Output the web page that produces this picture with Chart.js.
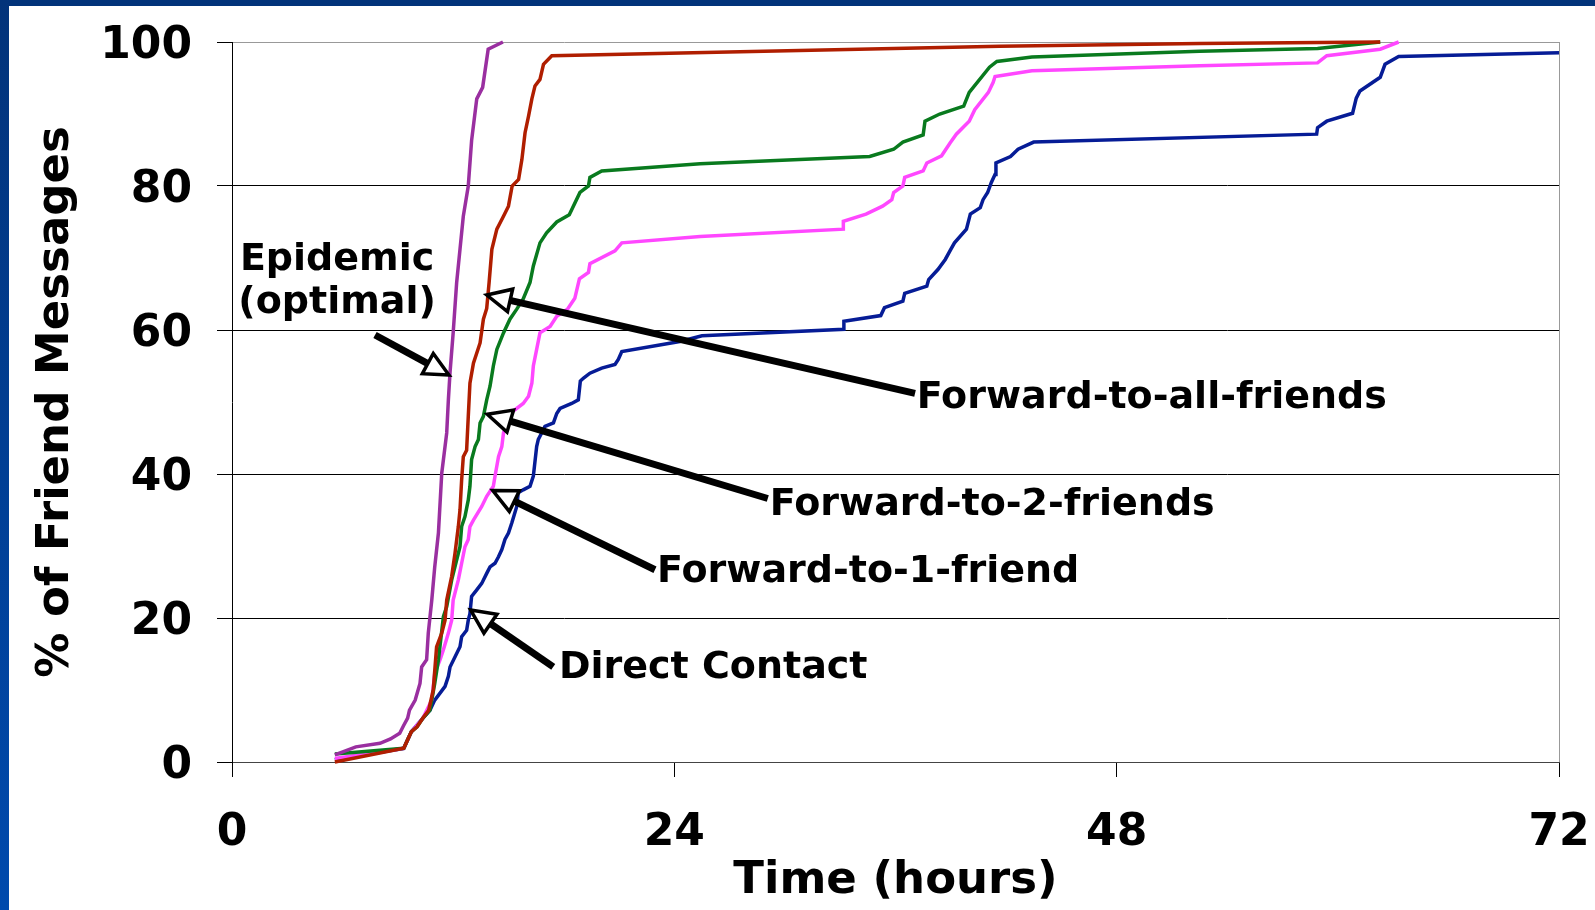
<!DOCTYPE html>
<html><head><meta charset="utf-8">
<script src="https://cdn.jsdelivr.net/npm/chart.js@4.4.1/dist/chart.umd.min.js"></script>
<style>
html,body{margin:0;padding:0;background:#fff;overflow:hidden}
#wrap{position:relative;width:1595px;height:910px}
#topbar{position:absolute;left:0;top:0;width:1595px;height:6px;background:#02337a;z-index:2}
#leftbar{position:absolute;left:0;top:0;width:9px;height:910px;background:linear-gradient(#02337a,#004aad);z-index:2}
canvas{position:absolute;left:0;top:0}
</style></head>
<body><div id="wrap"><div id="topbar"></div><div id="leftbar"></div><canvas id="c" width="1595" height="910"></canvas></div>
<script>
// ---- data (hours, % of friend messages) ----
const seriesNames = ["Epidemic (optimal)", "Forward-to-all-friends", "Forward-to-2-friends", "Forward-to-1-friend", "Direct Contact"];
const xTicks = [0, 24, 48, 72];
const yTicks = [0, 20, 40, 60, 80, 100];

const epidemicX = [5.58, 6.72, 8.03, 8.6, 9.1, 9.32, 9.53, 9.63, 9.94, 10.2, 10.29, 10.56, 10.65, 10.84, 11.0, 11.2, 11.38, 11.65, 11.74, 11.83, 12.0, 12.19, 12.37, 12.55, 12.82, 13.0, 13.28, 13.6, 13.9, 14.7];
const epidemicY = [1.0, 2.1, 2.6, 3.2, 4.0, 5.1, 6.1, 7.2, 8.6, 10.9, 13.2, 14.2, 17.9, 22.5, 27.1, 31.8, 40.1, 45.7, 50.3, 54.1, 59.6, 66.6, 71.2, 75.8, 80.0, 86.3, 92.1, 93.7, 99.0, 100];

const allX = [5.58, 9.32, 9.53, 9.73, 10.04, 10.36, 10.67, 10.92, 11.1, 11.38, 11.56, 11.65, 11.92, 12.1, 12.28, 12.37, 12.46, 12.55, 12.73, 12.82, 12.91, 13.1, 13.46, 13.64, 13.82, 13.95, 14.1, 14.37, 14.73, 15.0, 15.2, 15.55, 15.73, 15.9, 16.09, 16.27, 16.44, 16.71, 16.9, 17.35, 41.67, 52.5, 62.3];
const allY = [0, 1.9, 3.1, 4.2, 4.9, 6.1, 7.2, 10.0, 16.0, 17.9, 19.7, 22.5, 25.8, 29.0, 32.7, 35.0, 39.2, 42.4, 43.3, 48.0, 52.6, 55.4, 58.2, 61.5, 63.0, 66.6, 71.2, 74.0, 75.8, 77.2, 80.0, 80.9, 83.7, 87.4, 89.7, 92.1, 93.9, 94.8, 96.9, 98.1, 99.4, 99.8, 100];

const twoX = [5.58, 9.32, 9.53, 9.73, 10.04, 10.36, 10.74, 11.0, 11.2, 11.47, 11.65, 11.92, 12.37, 12.46, 12.64, 12.82, 12.91, 13.0, 13.19, 13.37, 13.46, 13.64, 13.82, 14.0, 14.18, 14.37, 14.73, 15.08, 15.45, 15.8, 16.17, 16.35, 16.71, 17.07, 17.62, 18.3, 18.88, 19.34, 19.42, 20.06, 25.4, 34.6, 35.9, 36.4, 37.5, 37.6, 38.4, 39.7, 40.0, 41.1, 41.5, 43.4, 52.5, 58.9, 62.3];
const twoY = [1.1, 1.9, 3.1, 4.2, 4.9, 6.1, 7.2, 10.9, 14.2, 20.2, 21.6, 25.3, 29.9, 32.7, 34.1, 36.4, 38.3, 42.0, 43.8, 44.8, 47.1, 48.0, 50.3, 52.2, 55.0, 57.3, 59.6, 61.5, 62.9, 64.3, 66.6, 68.9, 72.1, 73.5, 75.0, 76.0, 79.1, 80.0, 81.2, 82.1, 83.1, 84.1, 85.1, 86.1, 87.1, 89.0, 90.0, 91.1, 93.0, 96.5, 97.3, 97.9, 98.7, 99.1, 100];

const oneX = [5.58, 9.32, 9.73, 10.36, 10.84, 11.0, 11.29, 11.47, 11.74, 11.92, 12.0, 12.28, 12.46, 12.64, 12.82, 12.91, 13.1, 13.55, 13.82, 14.18, 14.27, 14.46, 14.64, 14.73, 15.08, 15.8, 16.09, 16.27, 16.35, 16.53, 16.71, 17.26, 17.62, 18.2, 18.6, 18.85, 19.34, 19.42, 20.78, 21.15, 25.4, 33.17, 33.17, 34.4, 35.3, 35.8, 35.9, 36.4, 36.5, 37.5, 37.7, 38.5, 38.97, 39.3, 40.0, 40.3, 41.04, 41.3, 41.4, 41.67, 43.4, 52.5, 58.9, 59.4, 62.3, 63.3];
const oneY = [0.5, 1.9, 4.2, 6.1, 8.6, 12.3, 14.2, 15.6, 17.9, 19.7, 22.5, 25.3, 27.6, 29.9, 30.9, 32.7, 33.6, 35.5, 36.9, 38.3, 39.7, 42.4, 43.8, 45.7, 48.4, 49.8, 50.8, 52.6, 55.0, 57.3, 59.6, 60.5, 61.9, 62.9, 64.4, 67.1, 68.0, 69.2, 71.0, 72.1, 73.0, 74.0, 75.1, 76.1, 77.2, 78.1, 79.1, 80.0, 81.2, 82.1, 83.2, 84.2, 86.0, 87.2, 89.0, 90.6, 93.0, 94.4, 95.2, 95.3, 96.0, 96.7, 97.1, 98.1, 99.0, 100];

const directX = [5.58, 9.32, 9.73, 10.36, 10.74, 11.0, 11.56, 11.74, 11.83, 12.37, 12.46, 12.73, 12.82, 12.91, 13.0, 13.28, 13.55, 13.82, 14.0, 14.27, 14.46, 14.64, 14.81, 15.0, 15.18, 15.45, 15.53, 15.8, 16.17, 16.35, 16.53, 16.62, 16.8, 16.98, 17.44, 17.62, 17.8, 18.43, 18.79, 18.9, 19.06, 19.42, 20.06, 20.78, 20.96, 21.15, 24.3, 25.5, 33.2, 33.2, 35.2, 35.4, 36.4, 36.5, 37.7, 37.8, 38.3, 38.7, 39.0, 39.2, 39.85, 40.06, 40.6, 40.75, 41.0, 41.2, 41.4, 41.45, 42.24, 42.65, 43.5, 58.85, 58.9, 59.4, 60.8, 61.0, 61.2, 62.3, 62.56, 63.3, 72];
const directY = [0.3, 1.9, 4.2, 6.1, 7.2, 8.6, 10.5, 11.9, 13.2, 16.0, 17.4, 18.3, 19.7, 20.6, 23.0, 23.9, 24.8, 26.2, 27.1, 27.6, 28.5, 29.5, 30.9, 31.8, 33.2, 35.5, 37.4, 37.8, 38.3, 39.7, 43.8, 44.8, 45.7, 46.6, 47.1, 48.4, 49.1, 49.8, 50.3, 52.9, 53.3, 54.0, 54.7, 55.2, 55.9, 57.0, 58.4, 59.2, 60.1, 61.2, 62.0, 63.1, 64.0, 65.1, 66.1, 67.0, 68.4, 69.8, 71.2, 72.1, 74.0, 76.1, 77.0, 78.1, 79.1, 80.5, 81.6, 83.2, 84.1, 85.1, 86.1, 87.2, 88.1, 89.0, 90.1, 92.2, 93.2, 95.1, 96.9, 98.0, 98.5];

// ---- annotations (placed in data units, converted through the scales) ----
const annotations = [
  { lines: ["Epidemic", "(optimal)"], align: "center", tx: 5.70, ty: [68.4, 62.4], tail: [7.76, 59.3], tip: [11.77, 53.75] },
  { lines: ["Forward-to-all-friends"], align: "left", tx: 37.15, ty: [49.1], tail: [37.06, 51.2], tip: [13.82, 64.86] },
  { lines: ["Forward-to-2-friends"], align: "left", tx: 29.18, ty: [34.3], tail: [29.07, 36.6], tip: [13.85, 48.3] },
  { lines: ["Forward-to-1-friend"], align: "left", tx: 23.06, ty: [25.04], tail: [22.95, 26.7], tip: [14.15, 37.7] },
  { lines: ["Direct Contact"], align: "left", tx: 17.74, ty: [11.67], tail: [17.43, 13.2], tip: [12.95, 21.1] }
];

function pts(xs, ys) { return xs.map((x, i) => ({ x: x, y: ys[i] })); }

const colors = ["#9a2fa0", "#b01e00", "#097a1e", "#ff47ff", "#061c96"];
const seriesData = [pts(epidemicX, epidemicY), pts(allX, allY), pts(twoX, twoY), pts(oneX, oneY), pts(directX, directY)];

function drawArrow(ctx, x1, y1, x2, y2) {
  const ang = Math.atan2(y2 - y1, x2 - x1);
  const L = 24, W = 11.5;
  const c = Math.cos(ang), s = Math.sin(ang);
  const bx = x2 - L * c, by = y2 - L * s;
  ctx.save();
  ctx.strokeStyle = "#000";
  ctx.lineWidth = 7;
  ctx.lineCap = "butt";
  ctx.beginPath(); ctx.moveTo(x1, y1); ctx.lineTo(bx, by); ctx.stroke();
  ctx.beginPath();
  ctx.moveTo(x2, y2);
  ctx.lineTo(bx - W * s, by + W * c);
  ctx.lineTo(bx + W * s, by - W * c);
  ctx.closePath();
  ctx.fillStyle = "#fff"; ctx.fill();
  ctx.lineWidth = 3.5; ctx.lineJoin = "miter"; ctx.stroke();
  ctx.restore();
}

const annotationPlugin = {
  id: "annot",
  afterDatasetsDraw(chart) {
    const ctx = chart.ctx, xs = chart.scales.x, ys = chart.scales.y;
    ctx.save();
    ctx.font = "bold 38px 'DejaVu Sans'";
    ctx.fillStyle = "#000";
    ctx.textBaseline = "alphabetic";
    annotations.forEach(a => {
      drawArrow(ctx, xs.getPixelForValue(a.tail[0]), ys.getPixelForValue(a.tail[1]),
                xs.getPixelForValue(a.tip[0]), ys.getPixelForValue(a.tip[1]));
      ctx.textAlign = a.align;
      a.lines.forEach((t, i) => {
        ctx.fillText(t, xs.getPixelForValue(a.tx), ys.getPixelForValue(a.ty[i]));
      });
    });
    ctx.restore();
  }
};

new Chart(document.getElementById("c"), {
  type: "line",
  data: {
    datasets: seriesData.map((d, i) => ({
      label: seriesNames[i],
      data: d,
      borderColor: colors[i],
      backgroundColor: colors[i],
      borderWidth: 3.5,
      pointRadius: 0,
      tension: 0,
      fill: false,
      clip: false
    }))
  },
  options: {
    responsive: false,
    animation: false,
    devicePixelRatio: 1,
    layout: { padding: { left: 0, top: 42, right: 36, bottom: 0 } },
    plugins: { legend: { display: false }, tooltip: { enabled: false } },
    scales: {
      x: {
        type: "linear", min: 0, max: 72,
        afterBuildTicks: s => { s.ticks = xTicks.map(v => ({ value: v })); },
        afterFit: s => { s.height = 148; s.paddingLeft = 0; s.paddingRight = 0; },
        ticks: { color: "#000", font: { family: "DejaVu Sans", weight: "bold", size: 44 }, padding: 30, maxRotation: 0 },
        grid: {
          drawOnChartArea: true, drawTicks: true, tickLength: 15,
          color: c => (c.tick && c.tick.value === 72) ? "#999" : "rgba(0,0,0,0)",
          tickColor: "#000", lineWidth: 1
        },
        border: { color: "#444", width: 1 },
        title: { display: true, text: "Time (hours)", color: "#000", font: { family: "DejaVu Sans", weight: "bold", size: 45 }, padding: { top: 0, bottom: 2 } }
      },
      y: {
        min: 0, max: 100,
        afterBuildTicks: s => { s.ticks = yTicks.map(v => ({ value: v })); },
        afterFit: s => { s.width = 232; s.paddingTop = 0; s.paddingBottom = 0; },
        ticks: { color: "#000", font: { family: "DejaVu Sans", weight: "bold", size: 44 }, padding: 25, labelOffset: 5 },
        grid: {
          drawTicks: true, tickLength: 15,
          color: c => (c.tick && c.tick.value === 100) ? "#999" : (c.tick && c.tick.value === 0) ? "#444" : "#000",
          tickColor: "#000", lineWidth: 1
        },
        border: { color: "#000", width: 1 },
        title: { display: true, text: "% of Friend Messages", color: "#000", font: { family: "DejaVu Sans", weight: "bold", size: 45 }, padding: { top: 29, bottom: 0 } }
      }
    }
  },
  plugins: [annotationPlugin]
});
</script>
</body></html>
